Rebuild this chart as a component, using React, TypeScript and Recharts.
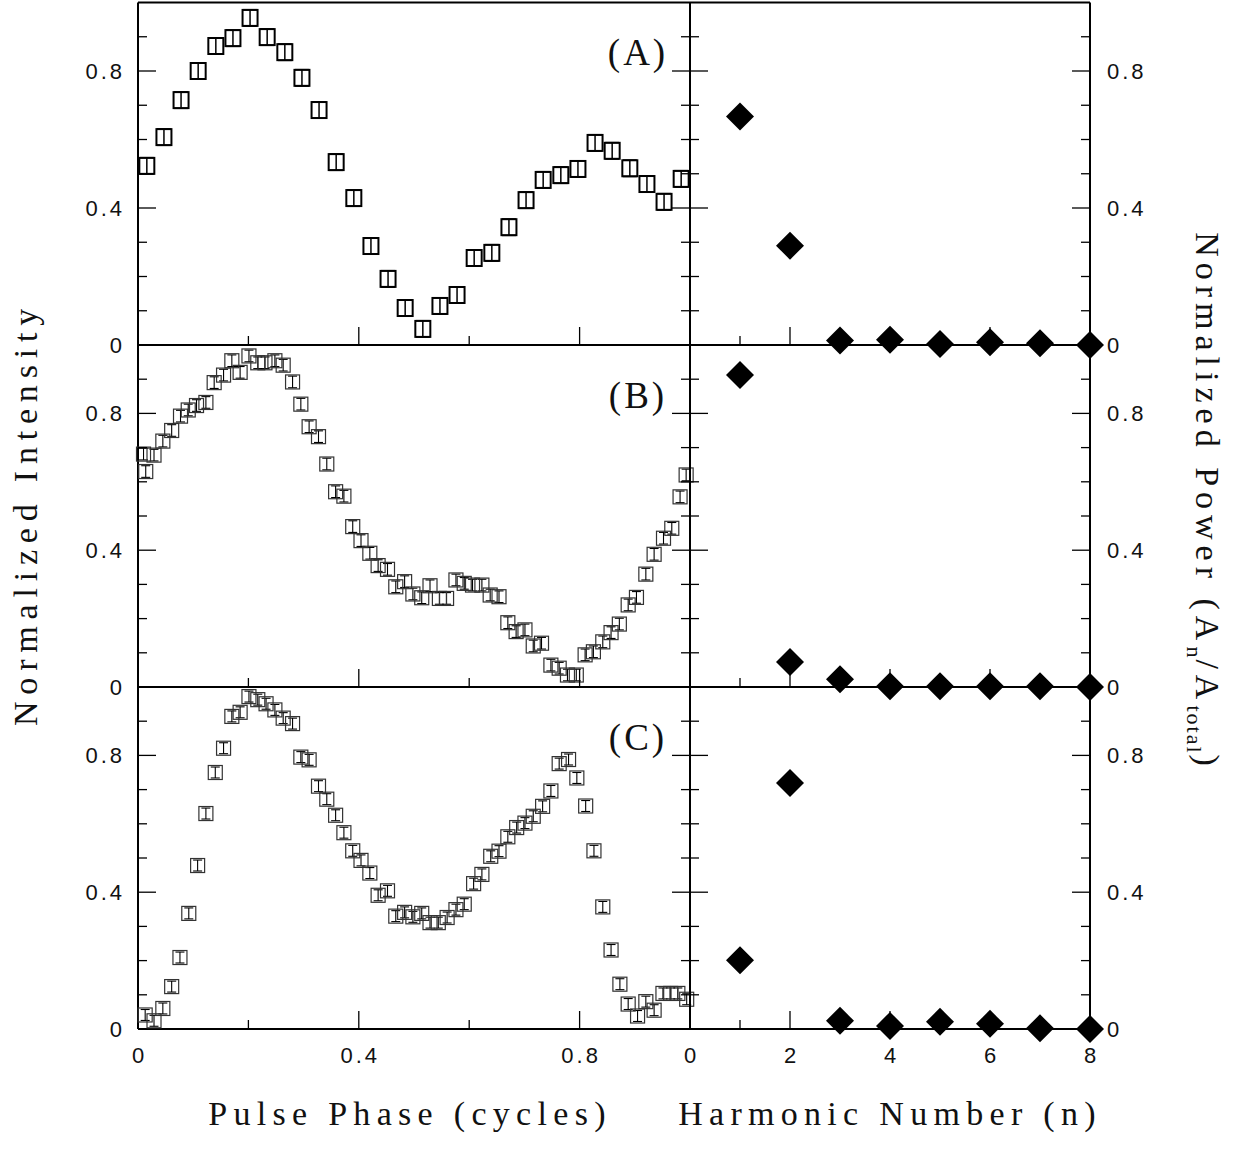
import React from 'react';
import { ScatterChart, Scatter, XAxis, YAxis, ErrorBar } from 'recharts';

// ---------- data ----------
const phaseA = [0.016, 0.047, 0.078, 0.109, 0.141, 0.172, 0.203, 0.234, 0.266, 0.297, 0.328, 0.359, 0.391, 0.422, 0.453, 0.484, 0.516, 0.547, 0.578, 0.609, 0.641, 0.672, 0.703, 0.734, 0.766, 0.797, 0.828, 0.859, 0.891, 0.922, 0.953, 0.984];
const intensityA = [0.523, 0.607, 0.715, 0.8, 0.873, 0.896, 0.955, 0.899, 0.855, 0.78, 0.686, 0.534, 0.429, 0.289, 0.193, 0.108, 0.047, 0.114, 0.146, 0.254, 0.269, 0.344, 0.423, 0.482, 0.496, 0.514, 0.59, 0.567, 0.516, 0.47, 0.418, 0.485];

const phaseB = [0.010, 0.014, 0.029, 0.045, 0.061, 0.077, 0.091, 0.106, 0.123, 0.138, 0.155, 0.170, 0.185, 0.201, 0.217, 0.230, 0.248, 0.263, 0.280, 0.295, 0.310, 0.327, 0.342, 0.358, 0.373, 0.389, 0.404, 0.420, 0.435, 0.452, 0.467, 0.483, 0.498, 0.514, 0.529, 0.546, 0.559, 0.576, 0.591, 0.606, 0.623, 0.638, 0.654, 0.670, 0.685, 0.701, 0.716, 0.731, 0.748, 0.763, 0.778, 0.794, 0.810, 0.825, 0.842, 0.857, 0.872, 0.888, 0.903, 0.920, 0.935, 0.952, 0.967, 0.982, 0.993];
const intensityB = [0.681, 0.630, 0.678, 0.719, 0.750, 0.792, 0.810, 0.823, 0.832, 0.890, 0.912, 0.954, 0.920, 0.968, 0.948, 0.948, 0.954, 0.941, 0.892, 0.827, 0.761, 0.732, 0.652, 0.571, 0.558, 0.469, 0.428, 0.391, 0.355, 0.344, 0.293, 0.308, 0.272, 0.261, 0.296, 0.259, 0.259, 0.313, 0.303, 0.298, 0.298, 0.269, 0.264, 0.188, 0.162, 0.167, 0.120, 0.128, 0.064, 0.055, 0.035, 0.035, 0.094, 0.103, 0.132, 0.159, 0.184, 0.240, 0.262, 0.330, 0.388, 0.435, 0.464, 0.556, 0.620];

const phaseC = [0.013, 0.029, 0.045, 0.061, 0.076, 0.092, 0.108, 0.123, 0.140, 0.155, 0.170, 0.185, 0.201, 0.217, 0.232, 0.248, 0.263, 0.280, 0.295, 0.310, 0.327, 0.342, 0.358, 0.373, 0.389, 0.404, 0.420, 0.435, 0.452, 0.467, 0.483, 0.498, 0.514, 0.529, 0.544, 0.560, 0.576, 0.591, 0.608, 0.623, 0.639, 0.654, 0.670, 0.686, 0.701, 0.716, 0.733, 0.748, 0.763, 0.780, 0.795, 0.811, 0.826, 0.842, 0.857, 0.873, 0.888, 0.905, 0.920, 0.935, 0.951, 0.965, 0.978, 0.994];
const intensityC = [0.041, 0.024, 0.060, 0.124, 0.209, 0.338, 0.478, 0.630, 0.750, 0.821, 0.914, 0.926, 0.972, 0.963, 0.951, 0.933, 0.909, 0.893, 0.795, 0.787, 0.710, 0.672, 0.625, 0.574, 0.521, 0.493, 0.456, 0.391, 0.404, 0.330, 0.341, 0.328, 0.338, 0.311, 0.311, 0.326, 0.349, 0.365, 0.425, 0.452, 0.505, 0.520, 0.562, 0.589, 0.602, 0.622, 0.651, 0.696, 0.776, 0.788, 0.734, 0.652, 0.521, 0.357, 0.231, 0.131, 0.073, 0.038, 0.080, 0.055, 0.104, 0.104, 0.104, 0.087];

const errA = 0.024;
const errB = 0.017;
const errC = 0.016;

const harmonics = [1, 2, 3, 4, 5, 6, 7, 8];
const powerA = [0.667, 0.290, 0.013, 0.015, 0.003, 0.008, 0.005, 0.0];
const powerB = [0.912, 0.073, 0.023, 0.002, 0.002, 0.002, 0.002, 0.0];
const powerC = [0.201, 0.719, 0.024, 0.009, 0.021, 0.015, 0.002, 0.0];

const panelLabels = ['(A)', '(B)', '(C)'];
const yTicks = [0, 0.1, 0.2, 0.3, 0.4, 0.5, 0.6, 0.7, 0.8, 0.9, 1.0];
const yTickLabels = [0, 0.4, 0.8];
const yMajor = [0.4, 0.8];
const phaseTicks = [0, 0.2, 0.4, 0.6, 0.8, 1.0];
const phaseLabels = [0, 0.4, 0.8];
const phaseMajor = [0.4, 0.8];
const harmTicks = [0, 1, 2, 3, 4, 5, 6, 7, 8];
const harmLabels = [0, 2, 4, 6, 8];
const harmMajor = [2, 4, 6];

const xTitleLeft = 'Pulse Phase (cycles)';
const xTitleRight = 'Harmonic Number (n)';
const yTitleLeft = 'Normalized Intensity';

// ---------- layout ----------
const W = 1238;
const H = 1150;
const LX0 = 138;
const MX = 690;
const RX1 = 1090;
const TOPS = [2.5, 345, 687];
const BOTS = [345, 687, 1029];

const TICK_FONT = "'Liberation Sans', 'DejaVu Sans', sans-serif";
const TITLE_FONT = "'Liberation Serif', 'DejaVu Serif', serif";
const LS = 3;
const tickTextProps = { fontSize: 22, fill: '#111', fontFamily: TICK_FONT, letterSpacing: LS };
const axisLineStyle = { stroke: '#000', strokeWidth: 2 };
const MAJ = 18;
const MIN = 9;

const near = (a: number, b: number) => Math.abs(a - b) < 1e-6;
const isIn = (v: number, arr: number[]) => arr.some((a) => near(a, v));
const fmt = (v: number) => (near(v, 0) ? '0' : String(v));

const mk = (xs: number[], ys: number[], err?: number) =>
  xs.map((x, i) => (err === undefined ? { x, y: ys[i] } : { x, y: ys[i], err }));

const SquareA = (p: any) => (
  <rect x={p.cx - 7.5} y={p.cy - 8} width={15} height={16} fill="none" stroke="#000" strokeWidth={2} />
);
const SquareBC = (p: any) => (
  <rect x={p.cx - 7} y={p.cy - 7} width={14} height={14} fill="none" stroke="#333" strokeWidth={1.2} />
);
const Diamond = (p: any) => (
  <polygon
    points={`${p.cx},${p.cy - 14} ${p.cx + 14},${p.cy} ${p.cx},${p.cy + 14} ${p.cx - 14},${p.cy}`}
    fill="#000"
  />
);

// tick renderers (tick marks drawn inward, major / minor lengths)
function xTick(edgeY: number, dir: number, ticks: number[], major: number[], labels: number[] | null) {
  return (props: any) => {
    const x = props.x;
    const v = props.payload.value;
    const inner = !near(v, ticks[0]) && !near(v, ticks[ticks.length - 1]);
    const len = inner ? (isIn(v, major) ? MAJ : MIN) : 0;
    return (
      <g>
        {len > 0 && <line x1={x} x2={x} y1={edgeY} y2={edgeY + dir * len} stroke="#000" strokeWidth={1.3} />}
        {labels && isIn(v, labels) && (
          <text x={x + LS / 2} y={edgeY + 34} textAnchor="middle" {...tickTextProps}>{fmt(v)}</text>
        )}
      </g>
    );
  };
}
function yTick(edgeX: number, dir: number, labels: 'left' | 'right' | null) {
  return (props: any) => {
    const y = props.y;
    const v = props.payload.value;
    const inner = !near(v, 0) && !near(v, 1);
    const len = inner ? (isIn(v, yMajor) ? MAJ : MIN) : 0;
    return (
      <g>
        {len > 0 && <line x1={edgeX} x2={edgeX + dir * len} y1={y} y2={y} stroke="#000" strokeWidth={1.3} />}
        {labels === 'left' && isIn(v, yTickLabels) && (
          <text x={edgeX - 16 + LS} y={y + 8} textAnchor="end" {...tickTextProps}>{fmt(v)}</text>
        )}
        {labels === 'right' && isIn(v, yTickLabels) && (
          <text x={edgeX + 17} y={y + 8} textAnchor="start" {...tickTextProps}>{fmt(v)}</text>
        )}
      </g>
    );
  };
}

function axes(kind: 'phase' | 'harm', row: number) {
  const xDomain = kind === 'phase' ? [0, 1] : [0, 8];
  const xT = kind === 'phase' ? phaseTicks : harmTicks;
  const xMaj = kind === 'phase' ? phaseMajor : harmMajor;
  const xLab = row === 2 ? (kind === 'phase' ? phaseLabels : harmLabels) : null;
  const x0 = kind === 'phase' ? LX0 : MX;
  const x1 = kind === 'phase' ? MX : RX1;
  const common = { type: 'number' as const, interval: 0 as const, tickLine: false, tickSize: 0, tickMargin: 0, axisLine: axisLineStyle };
  return [
    <XAxis key="xb" xAxisId="xb" dataKey="x" orientation="bottom" domain={xDomain} ticks={xT} height={1}
      tick={xTick(BOTS[row], -1, xT, xMaj, xLab)} {...common} />,
    <XAxis key="xt" xAxisId="xt" orientation="top" domain={xDomain} ticks={xT} height={1} allowDataOverflow
      tick={xTick(TOPS[row], 1, xT, xMaj, null)} {...common} />,
    <YAxis key="yl" yAxisId="yl" dataKey="y" orientation="left" domain={[0, 1]} ticks={yTicks} width={1}
      tick={yTick(x0, 1, kind === 'phase' ? 'left' : null)} {...common} />,
    <YAxis key="yr" yAxisId="yr" orientation="right" domain={[0, 1]} ticks={yTicks} width={1} allowDataOverflow
      tick={yTick(x1, -1, kind === 'harm' ? 'right' : null)} {...common} />,
  ];
}

const abs: React.CSSProperties = { position: 'absolute', left: 0, top: 0 };

export default function App() {
  const phaseData = [
    mk(phaseA, intensityA, errA),
    mk(phaseB, intensityB, errB),
    mk(phaseC, intensityC, errC),
  ];
  const powerData = [mk(harmonics, powerA), mk(harmonics, powerB), mk(harmonics, powerC)];

  return (
    <div style={{ position: 'absolute', left: 0, top: 0, width: W, height: H, background: '#fff' }}>
      {[0, 1, 2].map((i) => (
        <div key={'L' + i} style={abs}>
          <ScatterChart width={W} height={H}
            margin={{ left: LX0 - 1, right: W - MX - 1, top: TOPS[i] - 1, bottom: H - BOTS[i] - 1 }}>
            {axes('phase', i)}
            <Scatter data={phaseData[i]} xAxisId="xb" yAxisId="yl" isAnimationActive={false}
              shape={i === 0 ? SquareA : SquareBC}>
              <ErrorBar dataKey="err" direction="y" width={i === 0 ? 7 : 4.5} stroke="#000" strokeWidth={i === 0 ? 1.5 : 1.1} />
            </Scatter>
          </ScatterChart>
        </div>
      ))}
      {[0, 1, 2].map((i) => (
        <div key={'R' + i} style={abs}>
          <ScatterChart width={W} height={H}
            margin={{ left: MX - 1, right: W - RX1 - 1, top: TOPS[i] - 1, bottom: H - BOTS[i] - 1 }}>
            {axes('harm', i)}
            <Scatter data={powerData[i]} xAxisId="xb" yAxisId="yl" isAnimationActive={false} shape={Diamond} />
          </ScatterChart>
        </div>
      ))}
      <svg width={W} height={H} style={{ ...abs, pointerEvents: 'none' }}>
        {panelLabels.map((t, i) => (
          <text key={t} x={638} y={[65, 408, 750][i]} textAnchor="middle" fontFamily={TITLE_FONT}
            fontSize={37} fill="#111" letterSpacing={3}>{t}</text>
        ))}
        <text x={410} y={1125} textAnchor="middle" fontFamily={TITLE_FONT} fontSize={34} fill="#111" letterSpacing={6.3}>
          {xTitleLeft}
        </text>
        <text x={890} y={1125} textAnchor="middle" fontFamily={TITLE_FONT} fontSize={34} fill="#111" letterSpacing={6.3}>
          {xTitleRight}
        </text>
        <text transform="translate(37,514) rotate(-90)" textAnchor="middle" fontFamily={TITLE_FONT} fontSize={34}
          fill="#111" letterSpacing={6.8}>{yTitleLeft}</text>
        <text transform="translate(1196,502) rotate(90)" textAnchor="middle" fontFamily={TITLE_FONT} fontSize={34}
          fill="#111" letterSpacing={6}>
          Normalized Power (A<tspan dy={9} fontSize={22} letterSpacing={2}>n</tspan>
          <tspan dy={-9}>/A</tspan><tspan dy={9} fontSize={22} letterSpacing={2}>total</tspan>
          <tspan dy={-9}>)</tspan>
        </text>
      </svg>
    </div>
  );
}
